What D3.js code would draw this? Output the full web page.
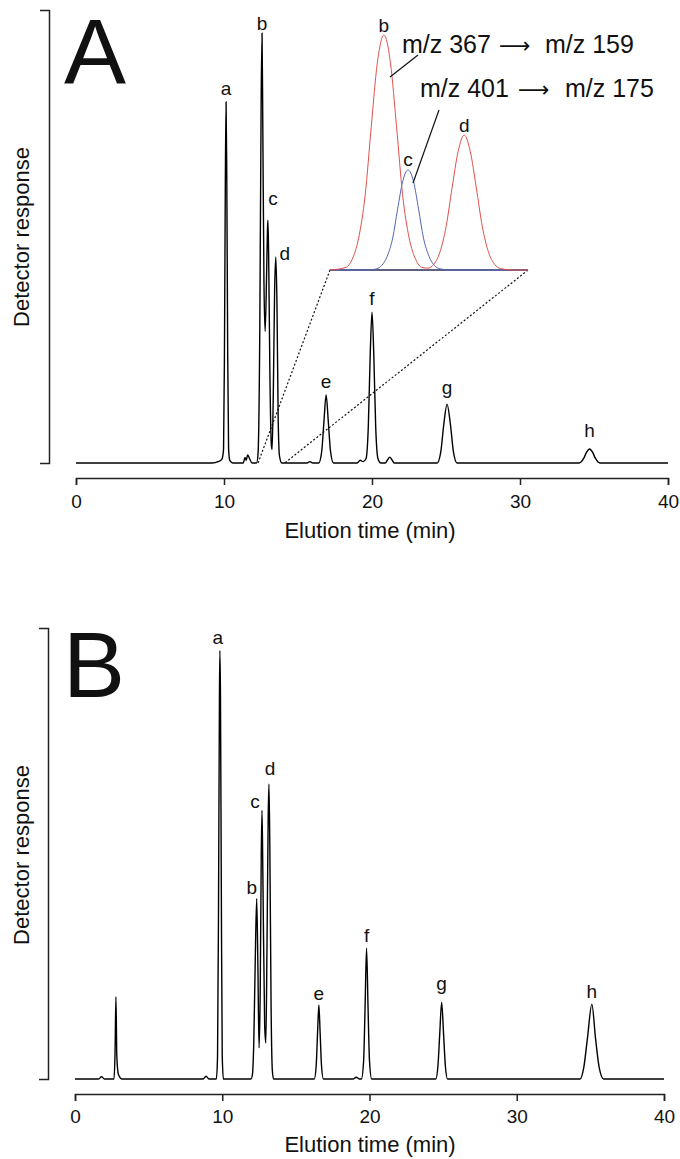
<!DOCTYPE html>
<html><head><meta charset="utf-8">
<script src="https://cdn.jsdelivr.net/npm/d3@7"></script>
<style>
body{margin:0;background:#fff}
svg{display:block}
text{font-family:"Liberation Sans",Arial,Helvetica,sans-serif;fill:#111}
</style>
</head><body>
<svg id="chart" width="680" height="1159"></svg>
<script>
// ---------------- data ----------------
const xTicks = [0, 10, 20, 30, 40];
const xTickLabels = ["0", "10", "20", "30", "40"];
const xTitle = "Elution time (min)";
const yTitle = "Detector response";
const panelLetters = ["A", "B"];

// chromatogram A: [time (min), response (% of axis)]
const traceA = [
  [0,0],[9.2,0],[9.6,0.3],[9.85,0.8],[9.97,3],[10.03,24],[10.09,62],[10.14,79.7],[10.19,62],[10.25,24],[10.31,3],[10.4,0.5],[10.6,0],
  [11.3,0],[11.42,1.2],[11.5,0.6],[11.6,1.8],[11.75,0.8],[11.9,0],
  [12.2,0],[12.3,2],[12.42,30],[12.51,80],[12.57,94.9],[12.62,75],[12.7,40],[12.78,29],[12.88,42],[12.94,52],[12.97,53.6],[13.02,45],[13.1,20],[13.2,4],[13.25,3],[13.33,15],[13.42,38],[13.5,45.5],[13.58,35],[13.66,10],[13.75,1.5],[13.9,0],
  [15.6,0],[15.8,0.3],[16.0,0],
  [16.4,0],[16.6,2.5],[16.75,9],[16.9,15],[17.05,9],[17.2,2.5],[17.4,0],
  [19.0,0],[19.2,0.6],[19.4,0.3],[19.6,1],[19.75,8],[19.88,24],[20.0,33.3],[20.12,24],[20.25,8],[20.4,1],[20.6,0],
  [20.9,0],[21.05,0.7],[21.2,1.3],[21.35,0.7],[21.5,0],
  [24.4,0],[24.65,2.5],[24.85,8.5],[25.07,13],[25.3,8.5],[25.5,2.5],[25.75,0],
  [34.0,0],[34.3,1],[34.5,2.4],[34.7,3.1],[34.9,2.4],[35.1,1],[35.4,0],
  [40,0]
];

// chromatogram B
const traceB = [
  [0,0],[1.6,0],[1.8,0.5],[2.0,0],[2.65,0],[2.72,6],[2.78,18.2],[2.84,5],[2.95,1],[3.2,0],
  [8.7,0],[8.9,0.6],[9.1,0],
  [9.6,0],[9.68,5],[9.75,40],[9.81,85],[9.84,95],[9.88,85],[9.94,40],[10.0,5],[10.08,0],
  [11.95,0],[12.05,1],[12.14,8],[12.25,28],[12.34,40],[12.42,25],[12.5,6.9],[12.58,20],[12.65,50],[12.7,59.6],[12.76,45],[12.88,12],[12.96,8],[13.04,30],[13.12,58],[13.17,65.4],[13.23,52],[13.32,15],[13.4,2],[13.48,0],
  [16.25,0],[16.38,3],[16.47,10],[16.56,16.4],[16.65,10],[16.74,3],[16.87,0],
  [18.9,0],[19.1,0.4],[19.3,0],[19.45,0],[19.6,4],[19.7,16],[19.8,29],[19.9,16],[20.0,4],[20.15,0],
  [24.5,0],[24.65,3],[24.77,10],[24.9,17],[25.03,10],[25.15,3],[25.3,0],
  [34.3,0],[34.55,2.5],[34.8,9],[35.1,16.6],[35.35,9],[35.6,2.5],[35.9,0],
  [40,0]
];

// inset (MRM traces), time window and relative response
const insetWindow = [12.3, 14.1];
const insetRed = [
  [12.3,0],[12.445,1.1],[12.5,4.4],[12.56,13.5],[12.62,32],[12.675,61],[12.73,88],[12.79,100],[12.85,88],[12.905,61],[12.96,32],[13.02,13.5],[13.08,4.4],[13.135,1.1],
  [13.19,0.8],[13.245,2.5],[13.3,7.7],[13.355,18.4],[13.41,35],[13.465,50.5],[13.52,57.4],[13.575,50.5],[13.63,35],[13.685,18.4],[13.74,7.7],[13.795,2.5],[13.85,0.6],[13.95,0],[14.1,0]
];
const insetBlue = [
  [12.3,0],[12.65,0],[12.725,0.5],[12.77,1.9],[12.82,5.8],[12.87,13.6],[12.915,26],[12.96,37.5],[13.01,42.6],[13.06,37.5],[13.105,26],[13.15,13.6],[13.2,5.8],[13.25,1.9],[13.3,0.5],[13.4,0],[14.1,0]
];
const transitionFrom = ["m/z 367", "m/z 401"];
const transitionTo = ["m/z 159", "m/z 175"];

// peaks
const peakNames = ["a","b","c","d","e","f","g","h"];
const peakTimeA = [10.14,12.57,12.97,13.5,16.9,20.0,25.07,34.7];
const peakRespA = [79.7,94.9,53.6,45.5,15,33.3,13,3.1];
const peakTimeB = [9.84,12.34,12.7,13.17,16.56,19.8,24.9,35.1];
const peakRespB = [95,40,59.6,65.4,16.4,29,17,16.6];
const insetPeakNames = ["b","c","d"];
const insetPeakTime = [12.79,13.01,13.52];
const insetPeakResp = [100,42.6,57.4];

// ---------------- drawing ----------------
const svg = d3.select("#chart");

function panel(cfg) {
  const x = d3.scaleLinear().domain([0,40]).range(cfg.xr);
  const y = d3.scaleLinear().domain([0,100]).range(cfg.yr);
  const g = svg.append("g");

  const ya = g.append("g").attr("transform", `translate(${cfg.yAxisX},0)`)
    .call(d3.axisLeft(y).tickValues([]).tickSizeOuter(9));
  ya.select(".domain").attr("stroke","#222").attr("stroke-width",1.5);

  const xa = g.append("g").attr("transform", `translate(0,${cfg.xAxisY})`)
    .call(d3.axisBottom(x).tickValues(xTicks).tickFormat((d,i)=>xTickLabels[i]).tickSize(7).tickSizeOuter(7).tickPadding(cfg.pad));
  xa.select(".domain").attr("stroke","#222").attr("stroke-width",1.5);
  xa.selectAll(".tick line").attr("stroke","#222").attr("stroke-width",1.5);
  xa.selectAll(".tick text").attr("font-size",19).attr("font-family","Liberation Sans, Arial, sans-serif").attr("fill","#111");

  g.append("text").attr("x",370).attr("y",cfg.titleY).attr("text-anchor","middle")
    .attr("font-size",22).text(xTitle);
  g.append("text").attr("transform",`translate(29,${cfg.yTitleY}) rotate(-90)`)
    .attr("text-anchor","middle").attr("font-size",22).text(yTitle);

  g.append("text").attr("x",cfg.letterX).attr("y",cfg.letterY).attr("font-size",93).text(cfg.letter);

  return {g, x, y};
}

// ---- panel A ----
const A = panel({xr:[76,668], yr:[463,10], yAxisX:49, xAxisY:478, pad:10, titleY:538, yTitleY:237,
  letter:panelLetters[0], letterX:64, letterY:84});

const xi = d3.scaleLinear().domain(insetWindow).range([330,528]);
const yi = d3.scaleLinear().domain([0,100]).range([270,35]);

// dotted zoom connectors
[0,1].forEach(k=>{
  A.g.append("line").attr("x1",xi(insetWindow[k])).attr("y1",yi(0)).attr("x2",A.x(insetWindow[k])).attr("y2",A.y(0))
    .attr("stroke","#111").attr("stroke-width",1.2).attr("stroke-dasharray","2,2");
});

const lineA = d3.line().x(d=>A.x(d[0])).y(d=>A.y(d[1])).curve(d3.curveMonotoneX);
A.g.append("path").datum(traceA).attr("d",lineA).attr("fill","none").attr("stroke","#000").attr("stroke-width",1.4);

const offA = [[0,-7],[0,-3],[5,-15],[9,3],[0,-7],[0,-7],[0,-10],[0,-12]];
peakNames.forEach((n,i)=>{
  A.g.append("text").attr("x",A.x(peakTimeA[i])+offA[i][0]).attr("y",A.y(peakRespA[i])+offA[i][1])
    .attr("text-anchor","middle").attr("font-size",19).text(n);
});

// inset
const lineI = d3.line().x(d=>xi(d[0])).y(d=>yi(d[1])).curve(d3.curveMonotoneX);
A.g.append("line").attr("x1",xi(insetWindow[0])).attr("x2",xi(insetWindow[1])).attr("y1",yi(0)).attr("y2",yi(0))
  .attr("stroke","#2c2c55").attr("stroke-width",1.6);
A.g.append("path").datum(insetBlue).attr("d",lineI).attr("fill","none").attr("stroke","#5466b8").attr("stroke-width",1);
A.g.append("path").datum(insetRed).attr("d",lineI).attr("fill","none").attr("stroke","#e0524c").attr("stroke-width",1);
const offI = [[0,-3],[0,-4],[0,-3]];
insetPeakNames.forEach((n,i)=>{
  A.g.append("text").attr("x",xi(insetPeakTime[i])+offI[i][0]).attr("y",yi(insetPeakResp[i])+offI[i][1])
    .attr("text-anchor","middle").attr("font-size",19).text(n);
});
// transition labels (from, arrow, to)
const trX = [[402,499,545],[420,518,565]];
const trY = [53,97];
transitionFrom.forEach((t,i)=>{
  const tx = A.g.append("text").attr("y",trY[i]).attr("font-size",25);
  tx.append("tspan").attr("x",trX[i][0]).text(t + " ");
  tx.append("tspan").attr("x",trX[i][1]).attr("font-family","DejaVu Sans").attr("font-size",22).text("\u27F6");
  tx.append("tspan").attr("x",trX[i][2]).text(transitionTo[i]);
});
// leader lines
A.g.append("line").attr("x1",418).attr("y1",55).attr("x2",390).attr("y2",77).attr("stroke","#111").attr("stroke-width",1.2);
A.g.append("line").attr("x1",439).attr("y1",110).attr("x2",413).attr("y2",183).attr("stroke","#111").attr("stroke-width",1.2);

// ---- panel B ----
const B = panel({xr:[75,664], yr:[1079,628], yAxisX:48, xAxisY:1094, pad:8.5, titleY:1152, yTitleY:855,
  letter:panelLetters[1], letterX:63, letterY:697});
const lineB = d3.line().x(d=>B.x(d[0])).y(d=>B.y(d[1])).curve(d3.curveMonotoneX);
B.g.append("path").datum(traceB).attr("d",lineB).attr("fill","none").attr("stroke","#000").attr("stroke-width",1.4);
const offB = [[-2,-7],[-5,-5],[-7,-2],[1,-9],[0,-5],[0,-6],[0,-12],[0,-6]];
peakNames.forEach((n,i)=>{
  B.g.append("text").attr("x",B.x(peakTimeB[i])+offB[i][0]).attr("y",B.y(peakRespB[i])+offB[i][1])
    .attr("text-anchor","middle").attr("font-size",19).text(n);
});
</script>
</body></html>
